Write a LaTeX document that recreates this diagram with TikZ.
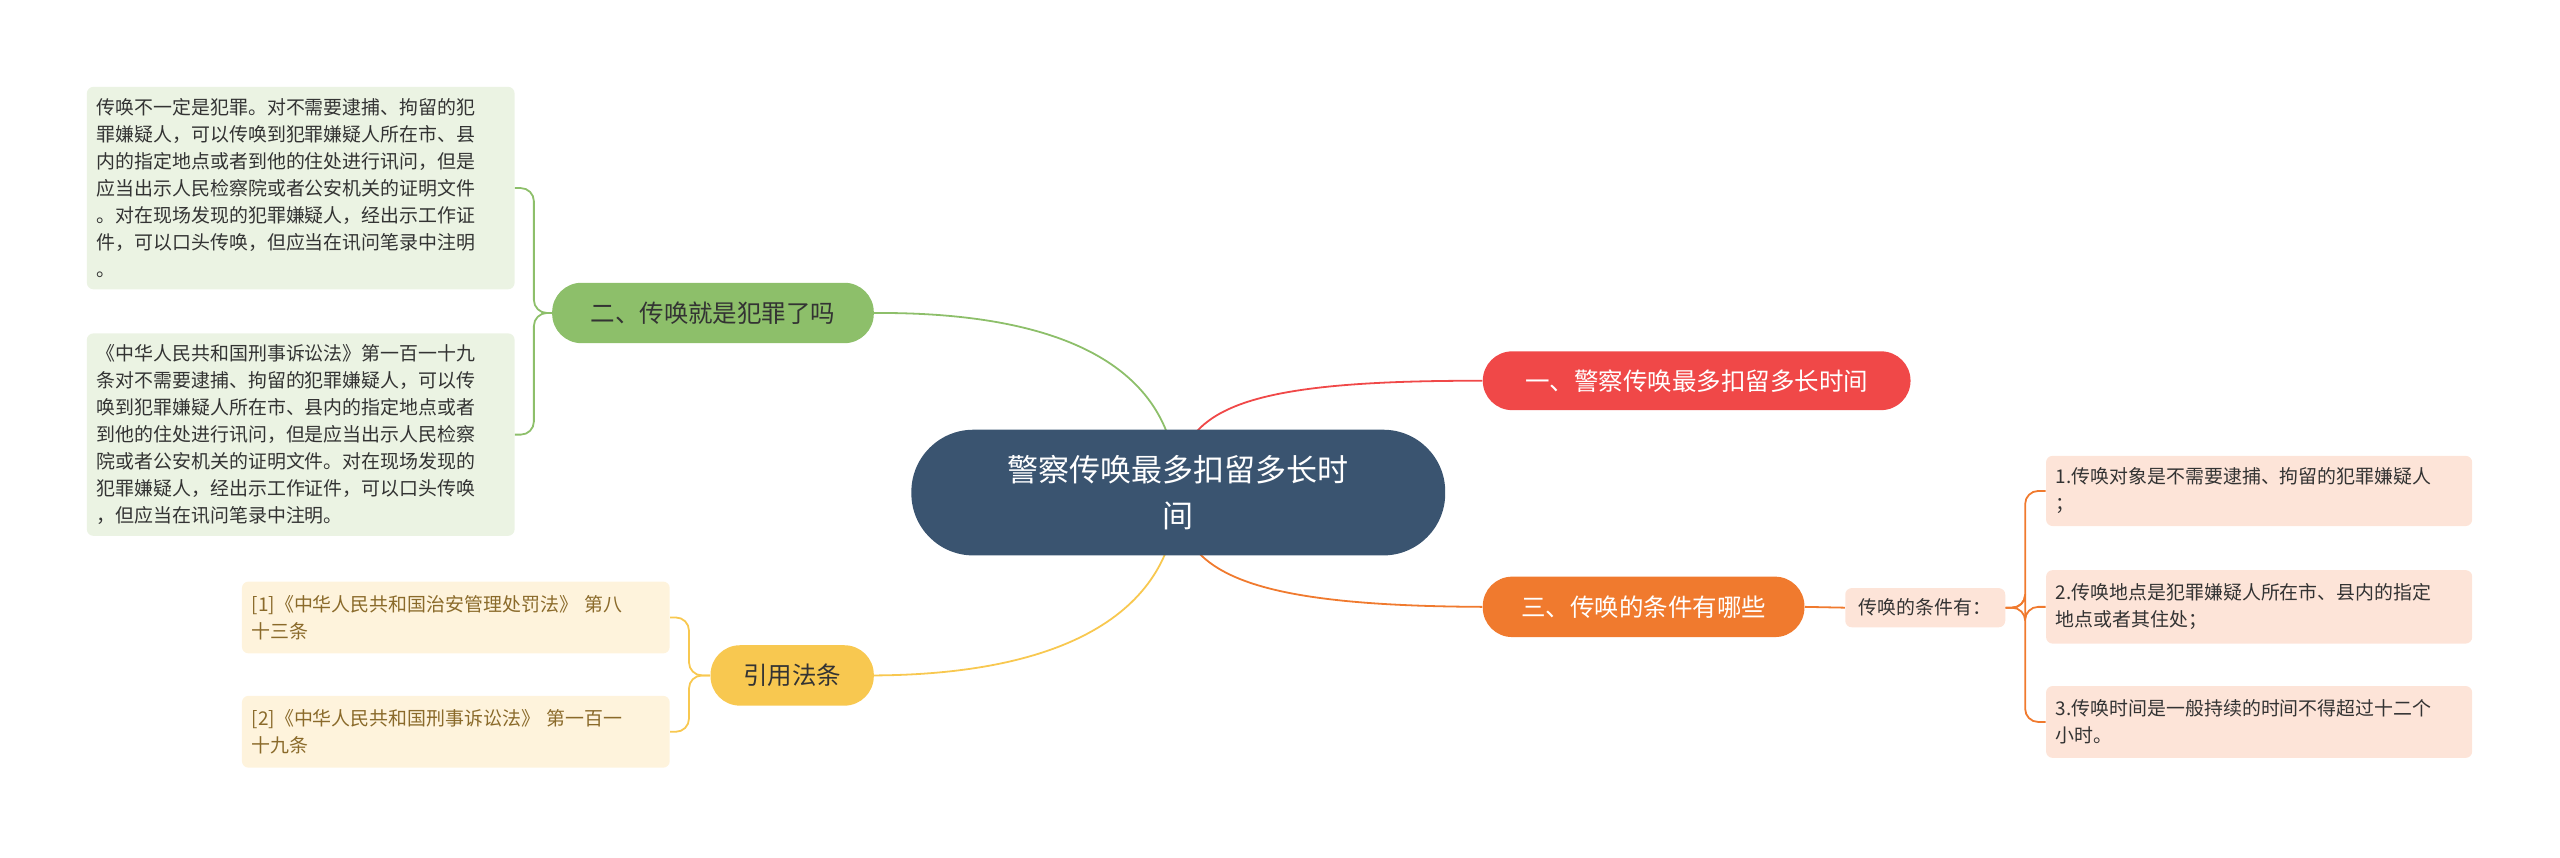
\documentclass[tikz,border=0pt]{standalone}
\usepackage{fontspec}
\setmainfont{Noto Sans CJK SC}
\begin{document}
\begin{tikzpicture}[x=1pt,y=-1pt,
 box/.style={rounded corners=4pt,inner sep=0pt,anchor=north west,align=left},
 leaf/.style={box,font=\fontsize{11.6}{16.5}\selectfont,text width=#1},
 br/.style={rounded corners=18pt,anchor=north west,inner sep=0pt,font=\fontsize{15}{18}\selectfont},
 ln/.style={line width=1.1pt}]
\useasboundingbox (0,0) rectangle (1568,525);
\definecolor{cblue}{HTML}{3A5470}
\definecolor{cred}{HTML}{F04848}
\definecolor{corange}{HTML}{F07A2E}
\definecolor{cgreen}{HTML}{8DBF6A}
\definecolor{cyellow}{HTML}{F8C850}
\definecolor{lorange}{HTML}{FDE4D8}
\definecolor{lgreen}{HTML}{EBF3E3}
\definecolor{lyellow}{HTML}{FEF3DC}
\definecolor{tbrown}{HTML}{8A6A2A}
\definecolor{tdark}{HTML}{333333}
% branches
\node[br,fill=cred,text=white,minimum width=262,minimum height=36] (b1) at (908,215) {\hspace*{0pt}};
\node[text=white,font=\fontsize{15}{18}\selectfont] at (b1.center) {一、警察传唤最多扣留多长时间};
\node[br,fill=corange,text=white,minimum width=197,minimum height=37] (b3) at (908,353) {};
\node[text=white,font=\fontsize{15}{18}\selectfont] at (b3.center) {三、传唤的条件有哪些};
\node[br,fill=cgreen,minimum width=197,minimum height=37] (b2) at (338,173) {};
\node[text=tdark,font=\fontsize{15}{18}\selectfont] at (b2.center) {二、传唤就是犯罪了吗};
\node[br,fill=cyellow,minimum width=100,minimum height=37] (b4) at (435,395) {};
\node[text=tdark,font=\fontsize{15}{18}\selectfont] at (b4.center) {引用法条};
% sub
\node[box,fill=lorange,minimum width=98,minimum height=24] (s) at (1130,360) {};
\node[font=\fontsize{11.6}{16}\selectfont,text=tdark] at (s.center) {传唤的条件有：};
% right leaves
\node[box,fill=lorange,minimum width=261,minimum height=43] (r1) at (1253,279) {};
\node[leaf=249pt,text=tdark,anchor=west] at ([xshift=6]r1.west) {1.传唤对象是不需要逮捕、拘留的犯罪嫌疑人\\；};
\node[box,fill=lorange,minimum width=261,minimum height=45] (r2) at (1253,349) {};
\node[leaf=249pt,text=tdark,anchor=west] at ([xshift=6]r2.west) {2.传唤地点是犯罪嫌疑人所在市、县内的指定\\地点或者其住处；};
\node[box,fill=lorange,minimum width=261,minimum height=44] (r3) at (1253,420) {};
\node[leaf=249pt,text=tdark,anchor=west] at ([xshift=6]r3.west) {3.传唤时间是一般持续的时间不得超过十二个\\小时。};
% left leaves
\node[box,fill=lgreen,minimum width=262,minimum height=124] (g1) at (53,53) {};
\node[leaf=252pt,text=tdark,anchor=west] at ([xshift=6]g1.west) {传唤不一定是犯罪。对不需要逮捕、拘留的犯\\罪嫌疑人，可以传唤到犯罪嫌疑人所在市、县\\内的指定地点或者到他的住处进行讯问，但是\\应当出示人民检察院或者公安机关的证明文件\\。对在现场发现的犯罪嫌疑人，经出示工作证\\件，可以口头传唤，但应当在讯问笔录中注明\\。};
\node[box,fill=lgreen,minimum width=262,minimum height=124] (g2) at (53,204) {};
\node[leaf=252pt,text=tdark,anchor=west] at ([xshift=6]g2.west) {《中华人民共和国刑事诉讼法》第一百一十九\\条对不需要逮捕、拘留的犯罪嫌疑人，可以传\\唤到犯罪嫌疑人所在市、县内的指定地点或者\\到他的住处进行讯问，但是应当出示人民检察\\院或者公安机关的证明文件。对在现场发现的\\犯罪嫌疑人，经出示工作证件，可以口头传唤\\，但应当在讯问笔录中注明。};
\node[box,fill=lyellow,minimum width=262,minimum height=44] (y1) at (148,356) {};
\node[leaf=252pt,text=tbrown,anchor=west] at ([xshift=6]y1.west) {[1]《中华人民共和国治安管理处罚法》 第八\\十三条};
\node[box,fill=lyellow,minimum width=262,minimum height=44] (y2) at (148,426) {};
\node[leaf=252pt,text=tbrown,anchor=west] at ([xshift=6]y2.west) {[2]《中华人民共和国刑事诉讼法》 第一百一\\十九条};
% center connectors
\coordinate (c) at (721,301);
\draw[ln,cgreen] (b2.east) .. controls (660,191) and (721,230) .. (c);
\draw[ln,cyellow] (b4.east) .. controls (660,413) and (721,370) .. (c);
\draw[ln,cred] (c) .. controls (721,250) and (760,233) .. (b1.west);
\draw[ln,corange] (c) .. controls (721,350) and (760,371) .. (b3.west);
% center
\node[box,fill=cblue,rounded corners=38pt,minimum width=327,minimum height=77] (m) at (558,263) {};
\node[text=white,align=center,font=\fontsize{19}{28}\selectfont] at (m.center) {警察传唤最多扣留多长时\\间};
% brackets
\draw[ln,cgreen,rounded corners=8pt] (b2.west) -- ++(-11,0) |- (g1.east);
\draw[ln,cgreen,rounded corners=8pt] (b2.west) -- ++(-11,0) |- (g2.east);
\draw[ln,cyellow,rounded corners=8pt] (b4.west) -- ++(-13,0) |- (y1.east);
\draw[ln,cyellow,rounded corners=8pt] (b4.west) -- ++(-13,0) |- (y2.east);
\draw[ln,corange] (b3.east) -- (s.west);
\draw[ln,corange,rounded corners=8pt] (s.east) -- ++(12,0) |- (r1.west);
\draw[ln,corange,rounded corners=8pt] (s.east) -- ++(12,0) |- (r2.west);
\draw[ln,corange,rounded corners=8pt] (s.east) -- ++(12,0) |- (r3.west);
\end{tikzpicture}
\end{document}
